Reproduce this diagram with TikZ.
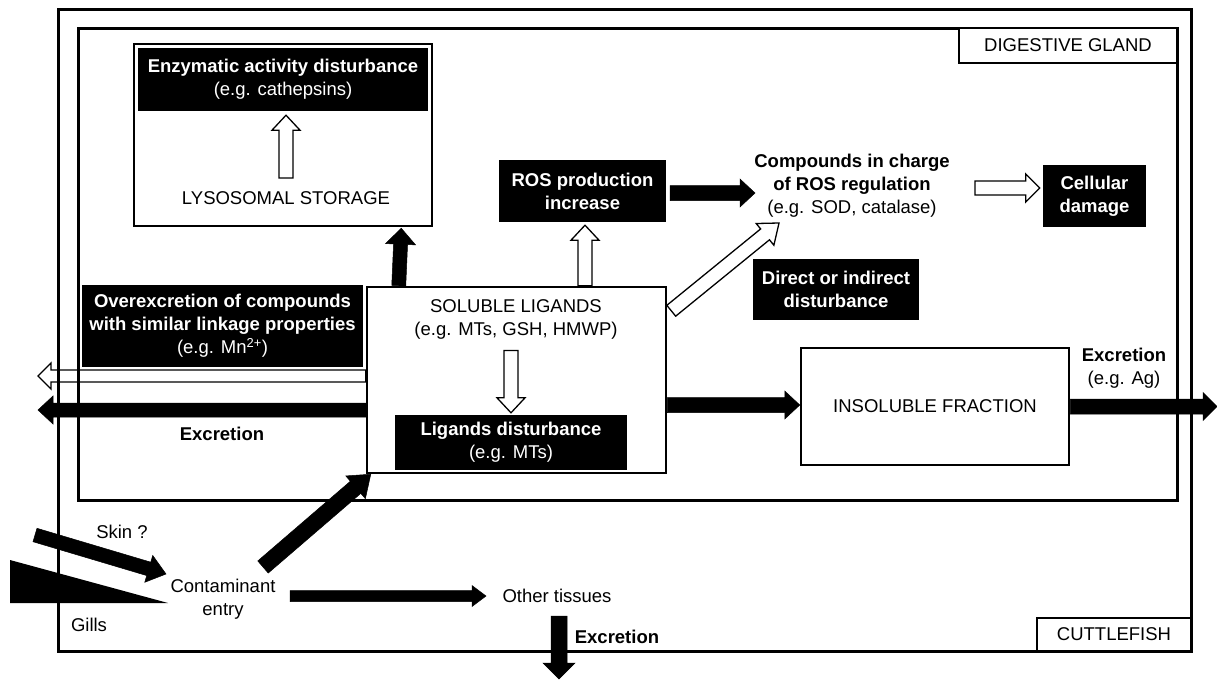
\documentclass[tikz,border=0pt]{standalone}
\usepackage{fontspec}
\setmainfont{Liberation Sans}
\usetikzlibrary{calc}
\newcommand{\barr}[6]{%
  \coordinate (tmpA) at #2; \coordinate (tmpB) at #3;
  \coordinate (tmpH) at ($(tmpB)!#6!(tmpA)$);
  \draw[#1] ($(tmpA)!#4!90:(tmpB)$) -- ($(tmpH)!#4!90:(tmpB)$) -- ($(tmpH)!#5!90:(tmpB)$) -- (tmpB)
    -- ($(tmpH)!#5!-90:(tmpB)$) -- ($(tmpH)!#4!-90:(tmpB)$) -- ($(tmpA)!#4!-90:(tmpB)$) -- cycle;}
\begin{document}
\begin{tikzpicture}[x=1pt,y=-1pt,font=\fontsize{18.5}{23}\selectfont,
  frame/.style={draw,line width=3pt},
  wbox/.style={draw,line width=2.5pt,fill=white,inner sep=0},
  lbl/.style={draw,line width=2.5pt,fill=white,inner sep=0},
  bbox/.style={fill=black,text=white,font=\fontsize{18.5}{23}\selectfont\bfseries,align=center,inner sep=0},
  txt/.style={align=center,inner sep=0},
  btxt/.style={align=center,inner sep=0,font=\fontsize{18.5}{23}\selectfont\bfseries},
  harr/.style={draw=black,fill=white,line width=1.3pt},
  farr/.style={draw=black,fill=black,line width=0.5pt}]
\useasboundingbox (0,0) rectangle (1217,680);
\fill[white] (0,0) rectangle (1217,680);

% boxes
\node[wbox,minimum width=298pt,minimum height=182pt] (lyso) at (283,135) {};
\node[bbox,minimum width=290pt,minimum height=63pt] (enz) at (283,79.5) {Enzymatic activity disturbance\\\mdseries(e.g. cathepsins)};
\node[txt] (ls) at (286,198) {LYSOSOMAL STORAGE};

\node[wbox,minimum width=299pt,minimum height=186pt] (sol) at (516.5,380) {};
\node[txt] (solt) at (516,319.5) {SOLUBLE LIGANDS\\(e.g. MTs, GSH, HMWP)};
\node[bbox,minimum width=232pt,minimum height=55pt] (lig) at (511,442.5) {Ligands disturbance\\\mdseries(e.g. MTs)};

\node[bbox,minimum width=167pt,minimum height=62pt] (ros) at (582.5,191) {ROS production\\increase};
\node[txt] (comp) at (852,186) {\bfseries Compounds in charge\\\bfseries of ROS regulation\\(e.g. SOD, catalase)};
\node[bbox,minimum width=103pt,minimum height=62pt] (cell) at (1094.5,196) {Cellular\\damage};
\node[bbox,minimum width=166pt,minimum height=61pt] (direct) at (836,289.5) {Direct or indirect\\disturbance};
\node[bbox,minimum width=281pt,minimum height=82pt] (over) at (222.5,326) {Overexcretion of compounds\\with similar linkage properties\\\mdseries(e.g. Mn\textsuperscript{2+})};

\node[wbox,minimum width=268pt,minimum height=117pt] (insol) at (935,406.5) {INSOLUBLE FRACTION};
\node[txt] (exr) at (1124,368.5) {\bfseries Excretion\\(e.g. Ag)};
\node[btxt] (exl) at (222,434) {Excretion};

\node[txt] (cont) at (223,599) {Contaminant\\entry};
\node[txt] (oth) at (557,596) {Other tissues};
\node[btxt] (exb) at (617,637) {Excretion};
\node[txt] (skin) at (122,532) {Skin ?};
\node[txt] (gills) at (89,625) {Gills};

\coordinate (lout) at (38,376);
\coordinate (lout2) at (38,410);
\coordinate (rout) at (1217,406.5);
\coordinate (bout) at (559,679);
\coordinate (skintail) at (35,535);

% gills wedge
\fill[black] (10,560) -- (10,603) -- (168,603) -- cycle;

% arrows
\barr{harr}{($(ls.center)+(0,-20)$)}{($(enz.south)+(3,4)$)}{7pt}{14pt}{15pt}
\barr{farr}{($(sol.north west)+(33,0)$)}{($(lyso.south east)+(-32,1)$)}{7pt}{15pt}{16pt}
\barr{harr}{($(sol.north)+(68.5,0)$)}{($(ros.south)+(2.5,3)$)}{7pt}{14pt}{15pt}
\barr{farr}{($(ros.east)+(4,2)$)}{($(comp.center)+(-97,7)$)}{7.5pt}{14pt}{15pt}
\barr{harr}{($(comp.center)+(123,2)$)}{($(cell.west)+(-3,-8)$)}{7pt}{14pt}{14pt}
\barr{harr}{($(sol.north east)+(4,25)$)}{($(comp.center)+(-73,37)$)}{7pt}{14pt}{18pt}
\barr{harr}{($(solt.center)+(-5,31)$)}{($(lig.north)+(0,-2)$)}{7pt}{14pt}{15pt}
\barr{harr}{($(sol.west)+(0,-4)$)}{(lout)}{6pt}{13pt}{13pt}
\barr{farr}{($(sol.west)+(0,30)$)}{(lout2)}{7pt}{14pt}{15pt}
\barr{farr}{($(sol.east)+(0,25)$)}{($(insol.west)+(0,-1.5)$)}{7.5pt}{14pt}{15pt}
\barr{farr}{(insol.east)}{(rout)}{7.5pt}{14pt}{14pt}
\barr{farr}{(skintail)}{($(cont.center)+(-57,-25)$)}{7pt}{14pt}{18pt}
\barr{farr}{($(cont.center)+(40,-32)$)}{($(sol.south west)+(5,0)$)}{8pt}{15pt}{20pt}
\barr{farr}{($(cont.center)+(67,-3)$)}{($(oth.center)+(-71,0)$)}{5.5pt}{10.5pt}{14pt}
\barr{farr}{($(oth.center)+(2,20)$)}{(bout)}{8pt}{16pt}{16pt}

% frames
\draw[frame] (58,9) rectangle (1191,651);
\draw[frame] (78,28) rectangle (1177,500);
\node[lbl,minimum width=218pt,minimum height=35pt] (dg) at (1068,45.5) {DIGESTIVE GLAND};
\node[lbl,minimum width=154pt,minimum height=33pt] (cf) at (1114,634.5) {CUTTLEFISH};
\end{tikzpicture}
\end{document}
